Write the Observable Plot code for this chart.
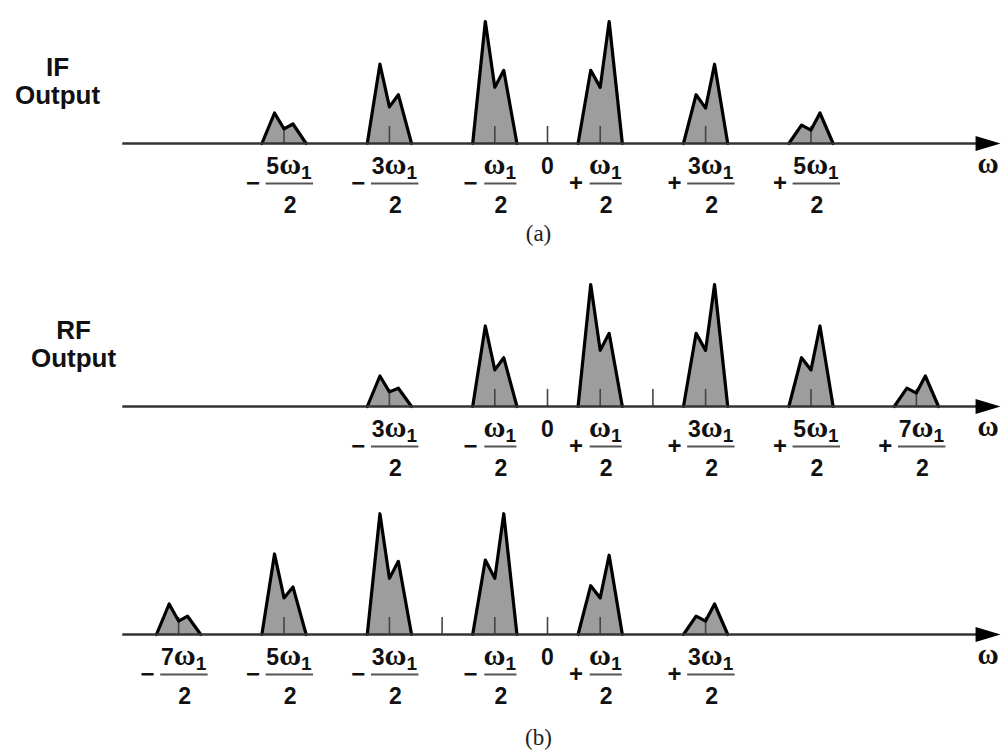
<!DOCTYPE html>
<html><head><meta charset="utf-8">
<script src="https://cdn.jsdelivr.net/npm/d3@7"></script>
<script src="https://cdn.jsdelivr.net/npm/@observablehq/plot@0.6"></script>
<style>
html,body{margin:0;padding:0;background:#fff;}
#wrap{position:relative;width:1001px;height:753px;overflow:hidden;background:#fff;}
#wrap svg{position:absolute;left:0;}
.cap{position:absolute;left:0;width:1001px;padding-left:76px;box-sizing:border-box;text-align:center;font-family:"Liberation Serif","Times New Roman",serif;font-size:23px;line-height:23px;color:#222;}
</style></head><body><div id="wrap"></div>
<script>
// ---------- data (heights relative to the tallest peak; centres in units of ω1/2) ----------
// (a) IF output
const ifCenters   = [-5, -3, -1, 1, 3, 5];
const ifLeftPeak  = [0.25, 0.65, 1.00, 0.60, 0.40, 0.15];
const ifDip       = [0.12, 0.30, 0.46, 0.46, 0.29, 0.11];
const ifRightPeak = [0.16, 0.40, 0.60, 1.00, 0.65, 0.25];
const ifSigns     = ["−", "−", "−", "+", "+", "+"];
const ifNums      = ["5", "3", "", "", "3", "5"];
const ifExtraTicks = [0];
// (b) RF output
const rfCenters   = [-3, -1, 1, 3, 5, 7];
const rfLeftPeak  = [0.25, 0.66, 1.00, 0.60, 0.40, 0.15];
const rfDip       = [0.12, 0.30, 0.46, 0.46, 0.30, 0.11];
const rfRightPeak = [0.15, 0.40, 0.60, 1.00, 0.66, 0.25];
const rfSigns     = ["−", "−", "+", "+", "+", "+"];
const rfNums      = ["3", "", "", "3", "5", "7"];
const rfExtraTicks = [0, 2];
// (b) lower spectrum
const loCenters   = [-7, -5, -3, -1, 1, 3];
const loLeftPeak  = [0.25, 0.66, 0.99, 0.61, 0.40, 0.15];
const loDip       = [0.11, 0.30, 0.46, 0.46, 0.30, 0.11];
const loRightPeak = [0.15, 0.39, 0.60, 0.99, 0.65, 0.25];
const loSigns     = ["−", "−", "−", "−", "+", "+"];
const loNums      = ["7", "5", "3", "", "", "3"];
const loExtraTicks = [0, -2];
const denominator = "2";
const zeroLabel = "0";
const axisLabel = "ω";
const subLabel = "1";
const ifName = ["IF", "Output"];
const rfName = ["RF", "Output"];
const captions = ["(a)", "(b)"];

// ---------- drawing ----------
const SANS = "'Liberation Sans', Arial, Helvetica, sans-serif";
const SERIF = "'Liberation Serif', 'Times New Roman', serif";
const wrap = document.getElementById("wrap");
const arrowSymbol = {draw(ctx) { ctx.moveTo(12.5, 0); ctx.lineTo(-12.5, -7.5); ctx.lineTo(-12.5, 7.5); ctx.closePath(); }};

function humpRows(centers, L, D, R) {
  const offs = [-0.42, -0.18, 0, 0.17, 0.42];
  const rows = [];
  centers.forEach((c, i) => {
    const ys = [0, L[i], D[i], R[i], 0];
    offs.forEach((o, j) => rows.push({hump: i, x: c + o, y: ys[j]}));
  });
  return rows;
}

function panel(cfg) {
  const pts = humpRows(cfg.centers, cfg.L, cfg.D, cfg.R);
  const ticks = cfg.centers.concat(cfg.extra);
  const labels = cfg.centers.map((k, i) => ({k, sign: cfg.signs[i], num: cfg.nums[i]}));
  const wide = d => d.num !== "";
  const narrow = d => d.num === "";
  const txt = {fontFamily: SANS, fontWeight: "bold", fill: "#111", lineAnchor: "bottom"};
  const marks = [
    Plot.areaY(pts, {x: "x", y: "y", z: "hump", fill: "#9d9d9d", curve: "linear"}),
    Plot.ruleX(ticks, {x: d => d, y1: 0, y2: 0.14, stroke: "#444", strokeWidth: 1.6}),
    Plot.lineY(pts, {x: "x", y: "y", z: "hump", stroke: "#000", strokeWidth: 3.2, strokeLinejoin: "round", strokeLinecap: "round", curve: "linear"}),
    Plot.ruleY([0], {x1: -8.06, x2: 8.3, stroke: "#333", strokeWidth: 2.6}),
    Plot.dot([0], {x: 8.36, y: 0, symbol: arrowSymbol, fill: "#000", stroke: null, r: 10}),
    Plot.text([axisLabel], {x: 8.36, y: 0, text: d => d, dy: 29, lineAnchor: "bottom", fontFamily: SERIF, fontWeight: "bold", fontSize: 29, fill: "#111"}),
    Plot.text([zeroLabel], {x: 0, y: 0, text: d => d, dy: 30, fontSize: 23, ...txt}),
    // numerators
    Plot.text(labels, {x: "k", y: 0, text: d => d.num + axisLabel + subLabel, dx: 5, dy: 30, fontSize: 23, ...txt}),
    // fraction bars
    Plot.ruleY(labels, {filter: wide, y: 0, x1: d => d.k - 0.34, x2: d => d.k + 0.56, dy: 40, stroke: "#555", strokeWidth: 2}),
    Plot.ruleY(labels, {filter: narrow, y: 0, x1: d => d.k - 0.19, x2: d => d.k + 0.42, dy: 40, stroke: "#555", strokeWidth: 2}),
    // denominators
    Plot.text(labels, {x: "k", y: 0, text: () => denominator, dx: 6, dy: 69, fontSize: 23, ...txt}),
    // signs
    Plot.text(labels, {filter: wide, x: d => d.k - 0.59, y: 0, text: "sign", dy: 40, fontSize: 24, fontFamily: SANS, fontWeight: "bold", fill: "#111"}),
    Plot.text(labels, {filter: narrow, x: d => d.k - 0.46, y: 0, text: "sign", dy: 40, fontSize: 24, fontFamily: SANS, fontWeight: "bold", fill: "#111"})
  ];
  if (cfg.name) {
    marks.push(Plot.text([cfg.name[0]], {frameAnchor: "bottom-left", text: d => d, dx: cfg.nameX, dy: -68, textAnchor: "middle", fontSize: 26, ...txt}));
    marks.push(Plot.text([cfg.name[1]], {frameAnchor: "bottom-left", text: d => d, dx: cfg.nameX, dy: -40, textAnchor: "middle", fontSize: 26, ...txt}));
  }
  const svg = Plot.plot({
    width: 1001, height: cfg.height, marginTop: cfg.marginTop,
    marginBottom: cfg.height - cfg.marginTop - 122, marginLeft: 0, marginRight: 0,
    x: {domain: [-10.38, 8.615], axis: null},
    y: {domain: [0, 1], axis: null},
    style: {background: "transparent", overflow: "visible"},
    marks
  });
  // numerator: coefficient (sans bold) + ω (serif) + subscript 1
  d3.select(svg).selectAll("text").each(function() {
    const m = /^(\d*)ω1$/.exec(this.textContent);
    if (!m) return;
    const s = d3.select(this);
    s.text(null);
    if (m[1]) s.append("tspan").text(m[1]);
    s.append("tspan").attr("font-family", SERIF).attr("font-size", 30).attr("font-weight", "bold").text(axisLabel);
    s.append("tspan").attr("dy", 5).attr("font-size", 19).text(subLabel);
  });
  svg.style.top = cfg.top + "px";
  wrap.appendChild(svg);
}

panel({centers: ifCenters, L: ifLeftPeak, D: ifDip, R: ifRightPeak, signs: ifSigns, nums: ifNums, extra: ifExtraTicks,
       name: ifName, nameX: 57, top: 0, marginTop: 21, height: 222});
panel({centers: rfCenters, L: rfLeftPeak, D: rfDip, R: rfRightPeak, signs: rfSigns, nums: rfNums, extra: rfExtraTicks,
       name: rfName, nameX: 73, top: 250, marginTop: 34, height: 235});
panel({centers: loCenters, L: loLeftPeak, D: loDip, R: loRightPeak, signs: loSigns, nums: loNums, extra: loExtraTicks,
       name: null, top: 485, marginTop: 27, height: 228});

[[captions[0], 222], [captions[1], 726]].forEach(([t, top]) => {
  const d = document.createElement("div");
  d.className = "cap"; d.textContent = t; d.style.top = top + "px";
  wrap.appendChild(d);
});
</script></body></html>
